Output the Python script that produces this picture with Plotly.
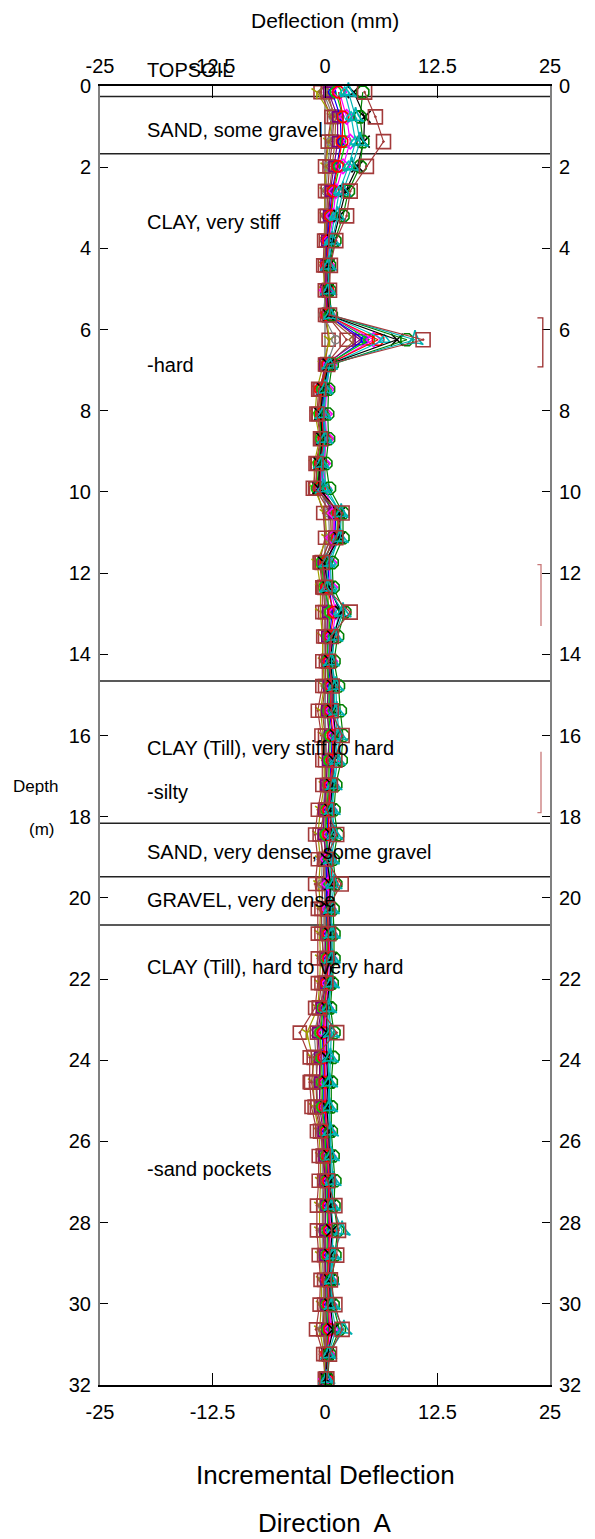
import plotly.graph_objects as go

# ---------------- data ----------------
depths = [0.15, 0.76, 1.37, 1.98, 2.59, 3.20, 3.81, 4.42, 5.03, 5.64, 6.25, 6.86, 7.47, 8.08,
          8.69, 9.30, 9.91, 10.52, 11.13, 11.74, 12.35, 12.96, 13.56, 14.17, 14.78, 15.39,
          16.00, 16.61, 17.22, 17.83, 18.44, 19.05, 19.66, 20.27, 20.88, 21.49, 22.10, 22.71,
          23.32, 23.93, 24.54, 25.15, 25.75, 26.36, 26.97, 27.58, 28.19, 28.80, 29.41, 30.02,
          30.63, 31.24, 31.85]

s01 = [-0.5, 0.7, 0.3, 0.0, 0.0, 0.0, -0.1, -0.2, 0.0, 0.0,
       0.4, 0.0, -0.5, -0.8, -0.4, -0.9, -1.0, -0.2, 0.0, -0.6,
       -0.3, -0.3, -0.2, -0.3, -0.3, -0.8, -0.4, -0.3, -0.3, -0.8,
       -1.1, -0.8, -1.1, -0.8, -0.8, -0.8, -0.8, -1.1, -2.8, -1.7,
       -1.7, -1.5, -0.9, -0.7, -0.7, -0.9, -0.9, -0.7, -0.5, -0.6,
       -1.0, -0.2, 0.0]
s02 = [-0.9, 0.8, 0.4, 0.1, 0.0, 0.0, 0.0, -0.1, -0.1, 0.1,
       0.5, -0.2, -0.9, -1.1, -0.6, -1.2, -1.2, 0.0, 0.2, -0.9,
       -0.5, -0.5, -0.3, -0.2, -0.1, -0.5, -0.2, -0.1, -0.1, -0.5,
       -0.8, -0.5, -0.7, -0.5, -0.6, -0.5, -0.6, -0.8, -2.0, -1.4,
       -1.3, -1.2, -0.7, -0.5, -0.5, -0.6, -0.6, -0.5, -0.4, -0.4,
       -0.6, -0.1, 0.0]
s03 = [-0.2, 0.9, 0.6, 0.3, 0.1, 0.1, 0.0, 0.0, 0.1, -0.2,
       1.2, 0.2, -0.2, -0.4, -0.1, -0.5, -0.6, 0.4, 0.5, -0.3,
       0.0, 0.1, 0.1, 0.0, 0.1, 0.0, 0.1, 0.2, 0.0, -0.2,
       -0.4, -0.3, -0.4, -0.2, -0.2, -0.3, -0.2, -0.5, -1.2, -1.0,
       -0.9, -0.8, -0.5, -0.3, -0.3, -0.3, -0.3, -0.3, -0.2, -0.2,
       -0.3, 0.0, 0.1]
s04 = [0.3, 1.0, 0.8, 0.5, 0.3, 0.2, 0.1, 0.0, 0.0, 0.2,
       2.4, 0.1, -0.6, -0.7, -0.3, -0.8, -1.1, 0.6, 0.7, -0.5,
       -0.2, 0.0, 0.0, 0.1, 0.0, -0.3, 0.0, 0.0, 0.2, 0.0,
       -0.6, -0.1, -0.2, -0.4, -0.4, -0.1, -0.4, -0.7, -0.9, -0.8,
       -1.0, -0.9, -0.3, -0.2, -0.1, -0.2, -0.2, -0.1, -0.1, -0.1,
       -0.2, 0.1, 0.0]
s05 = [0.0, 1.2, 1.1, 0.8, 0.5, 0.3, 0.2, 0.1, 0.2, 0.1,
       3.4, 0.3, 0.0, -0.2, 0.1, -0.3, -0.3, 0.8, 0.8, 0.0,
       0.3, 0.4, 0.3, 0.2, 0.3, 0.3, 0.4, 0.4, 0.3, 0.1,
       0.0, 0.0, 0.0, 0.0, 0.0, 0.1, 0.0, -0.3, -0.6, -0.5,
       -0.5, -0.4, -0.1, 0.0, 0.1, 0.0, 0.1, 0.1, 0.0, 0.0,
       0.0, 0.1, 0.1]
s06 = [0.4, 1.4, 1.4, 1.0, 0.6, 0.4, 0.2, 0.1, 0.1, 0.3,
       3.9, 0.0, -0.4, -0.5, -0.2, -0.6, -0.8, 1.0, 1.0, -0.2,
       0.1, 0.3, 0.2, 0.3, 0.4, 0.2, 0.5, 0.3, 0.1, -0.1,
       -0.2, 0.2, 0.3, 0.2, 0.1, 0.0, 0.1, -0.4, -0.8, -0.6,
       -0.6, -0.6, -0.2, -0.1, 0.0, 0.1, 0.0, 0.0, 0.1, 0.1,
       0.2, 0.2, 0.1]
s07 = [0.8, 1.7, 1.8, 1.3, 0.8, 0.5, 0.3, 0.2, 0.2, 0.2,
       4.4, 0.4, -0.1, -0.3, 0.0, -0.4, -0.5, 1.2, 1.1, 0.3,
       0.5, 0.8, 0.5, 0.4, 0.6, 0.5, 0.8, 0.7, 0.5, 0.3,
       0.3, 0.1, 0.2, 0.1, 0.3, 0.3, 0.2, -0.1, -0.3, -0.2,
       -0.2, -0.2, 0.1, 0.2, 0.3, 0.3, 0.4, 0.3, 0.2, 0.3,
       0.4, 0.2, 0.1]
s08 = [1.2, 2.0, 2.3, 1.6, 1.0, 0.7, 0.4, 0.2, 0.3, 0.4,
       4.9, 0.2, -0.3, -0.6, -0.4, -0.7, -0.9, 1.4, 1.3, -0.4,
       -0.1, 0.6, 0.4, 0.2, 0.5, 0.4, 0.6, 0.5, 0.4, 0.2,
       0.1, 0.4, 0.5, 0.3, 0.2, 0.2, 0.3, -0.2, -0.5, -0.4,
       -0.3, -0.3, 0.0, 0.1, 0.2, 0.2, 0.3, 0.2, 0.3, 0.2,
       0.3, 0.3, 0.2]
s09 = [1.6, 2.4, 2.8, 2.0, 1.2, 0.9, 0.5, 0.3, 0.2, 0.3,
       5.4, 0.5, 0.2, 0.0, 0.2, -0.2, -0.1, 1.1, 0.9, 0.5,
       0.6, 1.2, 0.8, 0.6, 0.8, 0.8, 1.1, 0.9, 0.7, 0.5,
       0.6, 0.3, 0.4, 0.4, 0.5, 0.5, 0.4, 0.1, 0.0, 0.1,
       0.1, 0.1, 0.3, 0.4, 0.5, 0.5, 0.6, 0.5, 0.4, 0.5,
       0.7, 0.3, 0.1]
s10 = [1.5, 2.0, 1.9, 1.4, 0.9, 0.6, 0.4, 0.2, 0.3, 0.2,
       5.9, 0.3, -0.5, -0.4, -0.1, -0.5, -0.6, 1.5, 1.4, 0.1,
       0.2, 1.0, 0.6, 0.5, 0.7, 0.6, 0.9, 0.8, 0.6, 0.4,
       0.4, 0.6, 0.8, 0.2, 0.4, 0.4, 0.2, 0.0, -0.2, -0.1,
       0.0, 0.0, 0.2, 0.3, 0.4, 0.4, 0.5, 0.4, 0.3, 0.4,
       0.5, 0.2, 0.2]
s11 = [2.2, 2.9, 3.4, 2.6, 1.6, 1.1, 0.6, 0.3, 0.4, 0.5,
       6.6, 0.6, 0.1, -0.1, 0.1, -0.3, 0.2, 1.7, 1.5, 0.6,
       0.7, 1.6, 1.0, 0.8, 1.0, 1.1, 1.4, 1.2, 0.9, 0.7,
       0.9, 0.5, 0.7, 0.6, 0.7, 0.6, 0.6, 0.3, 0.4, 0.4,
       0.4, 0.4, 0.5, 0.6, 0.7, 0.7, 0.9, 0.8, 0.6, 0.7,
       1.2, 0.4, 0.2]
s12 = [3.2, 4.4, 4.3, 3.6, 2.3, 1.6, 0.9, 0.4, 0.3, 0.4,
       8.0, 0.4, -0.2, -0.5, -0.3, -0.6, -0.7, 1.6, 1.6, -0.1,
       0.4, 1.8, 0.9, 0.6, 0.9, 0.9, 1.2, 1.0, 0.8, 0.6,
       0.7, 0.2, 0.6, 0.5, 0.6, 0.7, 0.5, 0.2, 0.2, 0.2,
       0.3, 0.2, 0.4, 0.5, 0.6, 0.6, 0.8, 0.6, 0.5, 0.6,
       0.9, 0.3, 0.1]
s13 = [4.2, 3.9, 4.2, 3.9, 2.6, 2.0, 1.1, 0.5, 0.5, 0.7,
       9.1, 0.8, 0.4, 0.3, 0.4, 0.1, 0.5, 2.0, 2.0, 0.8,
       0.9, 2.2, 1.4, 1.0, 1.5, 1.7, 2.0, 1.8, 1.2, 1.0,
       1.4, 0.9, 1.2, 0.9, 1.0, 1.0, 0.8, 0.6, 1.0, 0.9,
       0.7, 0.7, 0.7, 0.9, 1.1, 1.0, 1.4, 1.1, 0.8, 0.9,
       1.6, 0.5, 0.3]
s14 = [2.6, 3.4, 3.9, 3.0, 2.0, 1.4, 0.8, 0.4, 0.4, 0.6,
       10.0, 0.5, 0.0, -0.2, 0.0, -0.4, -0.2, 1.8, 1.7, 0.2,
       0.3, 2.0, 1.1, 0.7, 1.2, 1.3, 1.6, 1.4, 1.0, 0.8,
       1.1, 0.7, 1.0, 0.7, 0.8, 0.8, 0.7, 0.4, 0.7, 0.6,
       0.5, 0.5, 0.6, 0.7, 0.9, 0.8, 1.9, 0.9, 0.7, 0.8,
       2.1, 0.4, 0.2]
s15 = [4.4, 5.6, 6.5, 4.6, 2.8, 2.4, 1.2, 0.6, 0.5, 0.5,
       10.9, 0.3, -0.7, -0.9, -0.5, -1.0, -1.3, 1.9, 1.2, -0.3,
       0.0, 2.8, 0.7, 0.4, 0.8, 0.7, 1.9, 1.1, 0.6, 0.2,
       1.3, 0.1, 1.8, 0.3, 0.4, 0.2, 0.1, -0.6, 1.3, -1.2,
       -1.5, -1.1, -0.5, -0.2, 0.3, 1.1, 1.5, 1.3, 0.6, 1.1,
       1.9, 0.5, 0.2]

series = [s01, s02, s03, s04, s05, s06, s07, s08, s09, s10, s11, s12, s13, s14, s15]

x_ticks = [-25, -12.5, 0, 12.5, 25]
x_tick_text = ["-25", "-12.5", "0", "12.5", "25"]
y_ticks = [0, 2, 4, 6, 8, 10, 12, 14, 16, 18, 20, 22, 24, 26, 28, 30, 32]

strata_depths = [0.26, 1.67, 14.66, 18.16, 19.48, 20.67]
strata_labels = ["TOPSOIL", "SAND, some gravel", "CLAY, very stiff", "-hard",
                 "CLAY (Till), very stiff to hard", "-silty",
                 "SAND, very dense, some gravel", "GRAVEL, very dense",
                 "CLAY (Till), hard to very hard", "-sand pockets"]
strata_label_depths = [-0.4, 1.08, 3.35, 6.87, 16.3, 17.39, 18.87, 20.05, 21.7, 26.67]

bracket_tops = [5.71, 11.79, 16.4]
bracket_bottoms = [6.92, 13.3, 17.9]

# ---------------- styles ----------------
DR = "#A33A3A"
styles = [
    (DR, "square-open-dot", 13),
    ("#A0A000", "y-down-open", 9),
    ("#808080", "circle-open", 8),
    (DR, "square-open-dot", 13),
    ("#996633", "diamond-open", 10),
    ("#800080", "square-open", 10),
    ("#0000FF", "circle-open", 7),
    ("#00CC00", "circle-open", 11),
    ("#FF00FF", "diamond-open", 11),
    ("#FF0000", "octagon-open", 12),
    ("#00BFBF", "triangle-up-open", 10),
    ("#000000", "x-thin-open", 12),
    ("#008000", "octagon-open", 13),
    ("#00B0B0", "star-triangle-up-open", 12),
    (DR, "square-open-dot", 14),
]

FONT = "Liberation Sans, Arial, sans-serif"
Y_MAX = y_ticks[-1]

fig = go.Figure()
for vals, (col, sym, sz) in zip(series, styles):
    fig.add_trace(go.Scatter(
        x=vals, y=depths, mode="lines+markers",
        line=dict(color=col, width=1.2),
        marker=dict(symbol=sym, size=sz, color=col, line=dict(color=col, width=1.6)),
        showlegend=False, hoverinfo="skip", cliponaxis=False,
    ))

# invisible trace so the mirrored axes render
fig.add_trace(go.Scatter(x=[x_ticks[0], x_ticks[-1]], y=[y_ticks[0], y_ticks[-1]],
                         xaxis="x2", yaxis="y2", mode="markers",
                         marker=dict(opacity=0), showlegend=False, hoverinfo="skip"))

shapes = []
for d in strata_depths:
    shapes.append(dict(type="line", xref="paper", x0=0, x1=1, yref="y", y0=d, y1=d,
                       line=dict(color="#222222", width=1.5), layer="below"))
# brackets at right side
b_cols = ["#9B2D2D", "#C87878", "#C87878"]
b_x = [24.2, 24.0, 24.0]
for i, (t, b) in enumerate(zip(bracket_tops, bracket_bottoms)):
    xv = b_x[i]
    if i == 0:
        path = f"M 23.6 {t} L {xv} {t} L {xv} {b} L 23.6 {b}"
    elif i == 1:
        path = f"M 23.6 {t} L {xv} {t} L {xv} {b}"
    else:
        path = f"M {xv} {t} L {xv} {b} L 23.6 {b}"
    shapes.append(dict(type="path", xref="x", yref="y", path=path,
                       line=dict(color=b_cols[i], width=1.3)))

annotations = []
for txt, d in zip(strata_labels, strata_label_depths):
    annotations.append(dict(text=txt, x=-20, y=1 - d / Y_MAX, xref="x", yref="paper",
                            xanchor="left", yanchor="middle", showarrow=False,
                            font=dict(family=FONT, size=20, color="black")))
annotations += [
    dict(text="Deflection (mm)", x=0, y=1.0508, xref="x", yref="paper", showarrow=False,
         xanchor="center", yanchor="middle", font=dict(family=FONT, size=21, color="black")),
    dict(text="Incremental Deflection", x=0, y=-0.0693, xref="x", yref="paper", showarrow=False,
         xanchor="center", yanchor="middle", font=dict(family=FONT, size=26, color="black")),
    dict(text="Direction\u00a0 A", x=0, y=-0.1062, xref="x", yref="paper", showarrow=False,
         xanchor="center", yanchor="middle", font=dict(family=FONT, size=26, color="black")),
    dict(text="Depth", x=-0.144, y=0.4605, xref="paper", yref="paper", showarrow=False,
         xanchor="center", yanchor="middle", font=dict(family=FONT, size=17, color="black")),
    dict(text="(m)", x=-0.131, y=0.4274, xref="paper", yref="paper", showarrow=False,
         xanchor="center", yanchor="middle", font=dict(family=FONT, size=17, color="black")),
]

tickfont = dict(family=FONT, size=20, color="black")
xcommon = dict(range=[-25, 25], tickvals=x_ticks, ticktext=x_tick_text, ticks="inside",
               ticklen=12, tickcolor="black", tickwidth=1, showline=True, linecolor="black",
               linewidth=2, showgrid=False, tickfont=tickfont)
ycommon = dict(range=[32, 0], tickvals=y_ticks, ticks="inside", ticklen=8, tickcolor="black",
               tickwidth=1, showline=True, linecolor="#808080", linewidth=2, showgrid=False,
               zeroline=False, tickfont=tickfont)

fig.update_layout(
    width=595, height=1539,
    margin=dict(l=100, r=45, t=86, b=154),
    paper_bgcolor="white", plot_bgcolor="white",
    xaxis=dict(**xcommon, side="bottom", ticklabelstandoff=8,
               zeroline=True, zerolinecolor="#A0A0A0", zerolinewidth=1.5),
    xaxis2=dict(**xcommon, side="top", overlaying="x", matches="x", ticklabelstandoff=3,
                zeroline=False),
    yaxis=dict(**ycommon, side="left", ticklabelstandoff=3),
    yaxis2=dict(**ycommon, side="right", overlaying="y", matches="y", ticklabelstandoff=3),
    shapes=shapes, annotations=annotations,
)

fig.write_html("out.html")
